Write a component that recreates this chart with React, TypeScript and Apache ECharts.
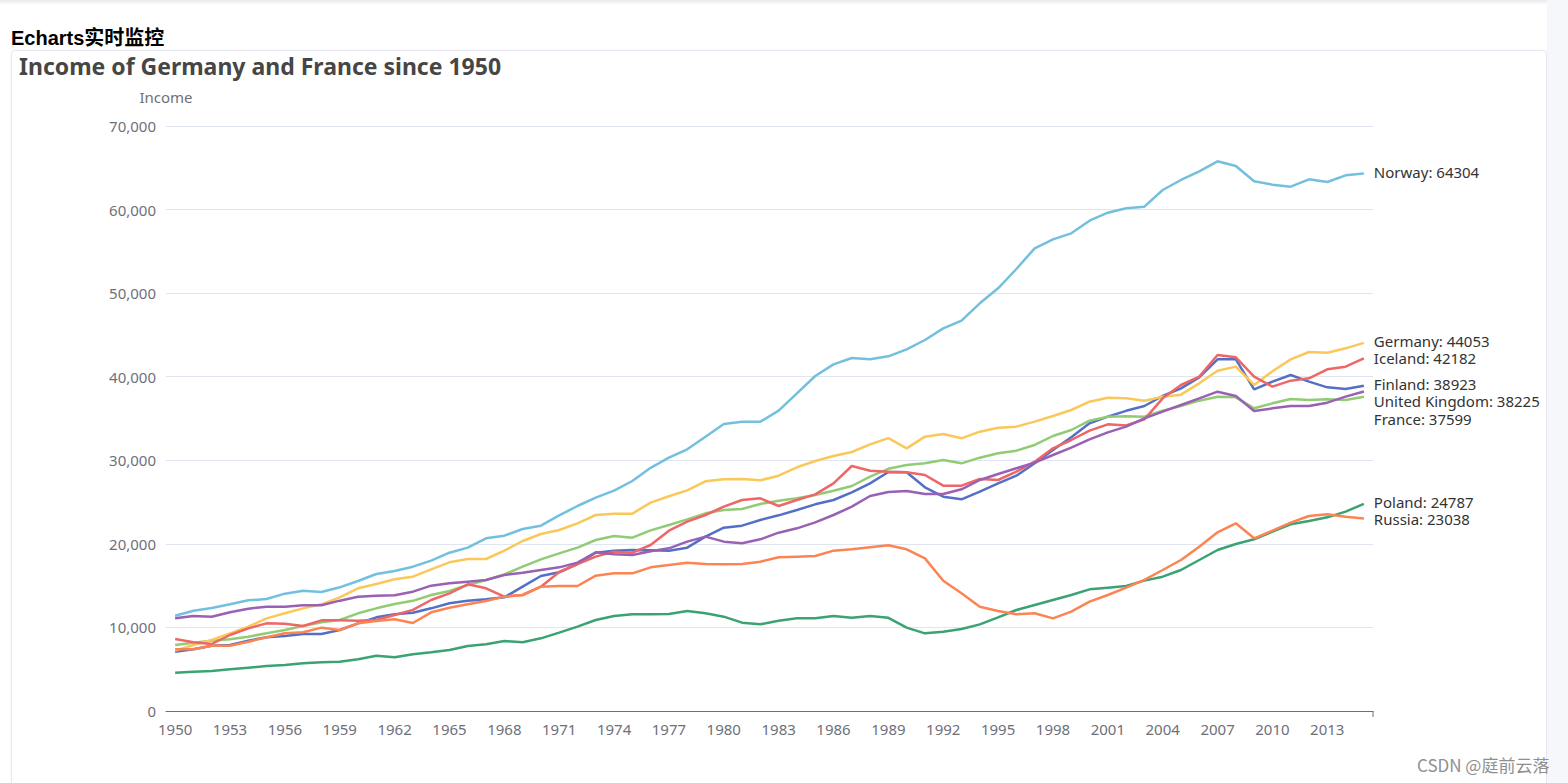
import React, { useEffect, useRef } from "react";
import * as echarts from "echarts";

const years: string[] = [];
for (let y = 1950; y <= 2015; y++) years.push(String(y));

const countries = ["Finland", "France", "Germany", "Iceland", "Norway", "Poland", "Russia", "United Kingdom"];
const palette = ["#5470c6", "#91cc75", "#fac858", "#ee6666", "#73c0de", "#3ba272", "#fc8452", "#9a60b4"];

const finland = [
  7097, 7380, 7814, 7898, 8416, 8815, 8975, 9214, 9214, 9693,
  10490, 11208, 11567, 11750, 12285, 12884, 13203, 13363, 13602, 14880,
  16154, 16593, 17590, 18946, 19186, 19265, 19226, 19186, 19545, 20861,
  21938, 22178, 22855, 23413, 24052, 24730, 25248, 26167, 27243, 28598,
  28558, 26764, 25647, 25328, 26245, 27242, 28159, 29635, 31231, 32747,
  34421, 35219, 35918, 36496, 37693, 38610, 39927, 42080, 42080, 38491,
  39409, 40206, 39409, 38730, 38530, 38923,
];
const france = [
  7898, 8177, 8416, 8576, 8895, 9293, 9693, 10171, 10610, 10889,
  11687, 12285, 12804, 13183, 13881, 14359, 15077, 15675, 16354, 17271,
  18148, 18866, 19544, 20462, 20940, 20741, 21618, 22257, 22935, 23653,
  24052, 24172, 24770, 25169, 25448, 25847, 26364, 26924, 28039, 28980,
  29436, 29635, 30034, 29635, 30313, 30831, 31151, 31830, 32906, 33625,
  34741, 35219, 35260, 35219, 35938, 36496, 37135, 37614, 37534, 36217,
  36815, 37334, 37214, 37294, 37214, 37599,
];
const germany = [
  7220, 7898, 8496, 9293, 10091, 11088, 11687, 12285, 12764, 13601,
  14678, 15197, 15755, 16075, 16953, 17790, 18188, 18188, 19186, 20343,
  21180, 21659, 22456, 23453, 23613, 23613, 24929, 25700, 26400, 27486,
  27726, 27760, 27605, 28158, 29160, 29915, 30513, 30992, 31910, 32647,
  31430, 32827, 33146, 32627, 33425, 33904, 34024, 34622, 35300, 36018,
  37015, 37494, 37434, 37135, 37614, 37853, 39209, 40725, 41204, 39010,
  40645, 42080, 42958, 42878, 43397, 44053,
];
const iceland = [
  8616, 8217, 8017, 9094, 9892, 10490, 10451, 10171, 10850, 10850,
  10810, 10889, 11487, 12100, 13283, 14081, 15158, 14680, 13683, 13881,
  14879, 16633, 17590, 18467, 19066, 18946, 19866, 21578, 22655, 23453,
  24450, 25248, 25447, 24530, 25248, 25926, 27242, 29316, 28758, 28638,
  28558, 28239, 26963, 26963, 27760, 27641, 28638, 29835, 31430, 32428,
  33545, 34302, 34163, 34901, 37414, 39010, 40007, 42600, 42320, 40007,
  38810, 39528, 39808, 40884, 41204, 42182,
];
const norway = [
  11404, 12002, 12325, 12765, 13244, 13402, 14040, 14399, 14240, 14798,
  15556, 16394, 16752, 17270, 17988, 18945, 19544, 20661, 20980, 21778,
  22177, 23412, 24530, 25527, 26364, 27522, 29100, 30313, 31312, 32827,
  34342, 34620, 34620, 35935, 38011, 40086, 41481, 42240, 42080, 42440,
  43280, 44393, 45787, 46703, 48786, 50579, 52890, 55362, 56439, 57157,
  58671, 59628, 60148, 60347, 62343, 63540, 64577, 65774, 65215, 63381,
  62982, 62742, 63620, 63300, 64100, 64304,
];
const poland = [
  4587, 4707, 4786, 4986, 5186, 5385, 5504, 5704, 5823, 5903,
  6182, 6620, 6421, 6800, 7020, 7299, 7778, 7977, 8376, 8217,
  8695, 9373, 10091, 10889, 11368, 11567, 11587, 11607, 11966, 11687,
  11288, 10570, 10370, 10810, 11088, 11088, 11368, 11168, 11368, 11148,
  9972, 9293, 9493, 9812, 10370, 11208, 12086, 12684, 13283, 13881,
  14560, 14760, 14958, 15600, 16075, 16872, 18068, 19265, 19983, 20541,
  21458, 22336, 22735, 23173, 23852, 24787,
];
const russia = [
  7380, 7380, 7814, 7814, 8296, 8815, 9293, 9413, 9972, 9693,
  10490, 10769, 10969, 10530, 11807, 12364, 12764, 13163, 13682, 13881,
  14879, 14958, 14958, 16194, 16473, 16473, 17190, 17470, 17750, 17590,
  17550, 17590, 17869, 18387, 18467, 18547, 19186, 19345, 19585, 19824,
  19345, 18267, 15595, 14081, 12484, 11966, 11567, 11687, 11088, 11886,
  13083, 13881, 14760, 15700, 16872, 18068, 19663, 21380, 22455, 20661,
  21578, 22535, 23334, 23533, 23254, 23038,
];
const unitedKingdom = [
  11088, 11368, 11288, 11807, 12245, 12484, 12484, 12644, 12644, 13203,
  13682, 13802, 13842, 14280, 14999, 15280, 15477, 15675, 16274, 16552,
  16872, 17190, 17750, 18986, 18747, 18667, 19126, 19465, 20262, 20861,
  20262, 20063, 20541, 21339, 21858, 22575, 23453, 24450, 25727, 26205,
  26325, 25966, 25966, 26524, 27641, 28359, 29040, 29715, 30633, 31510,
  32508, 33345, 34024, 35020, 35818, 36616, 37414, 38211, 37693, 35898,
  36217, 36496, 36496, 36894, 37614, 38225,
];

const seriesValues = [finland, france, germany, iceland, norway, poland, russia, unitedKingdom];

const FONT = '"Noto Sans", "Noto Sans CJK SC", sans-serif';
const CHART_W = 1534;
const CHART_H = 732;
const GRID = { left: 154, right: 173, top: 75, bottom: 72 };

function Chart() {
  const ref = useRef<HTMLDivElement>(null);
  useEffect(() => {
    if (!ref.current) return;
    const chart = echarts.init(ref.current, undefined, { renderer: "svg" });
    const axisEndX = CHART_W - GRID.right;
    const axisY = CHART_H - GRID.bottom;
    chart.setOption({
      animation: false,
      color: palette,
      textStyle: { fontFamily: FONT },
      title: {
        text: "Income of Germany and France since 1950",
        left: 7,
        top: 3,
        padding: 0,
        textStyle: { fontSize: 23, fontWeight: "bold", color: "#464646", fontFamily: FONT },
      },
      grid: GRID,
      xAxis: {
        type: "category",
        data: years,
        axisLabel: { interval: 2, fontSize: 15, color: "#6E7079", margin: 10 },
        axisTick: { interval: 2, length: 6, lineStyle: { color: "#6E7079" } },
        axisLine: { lineStyle: { color: "#6E7079" } },
      },
      yAxis: {
        type: "value",
        name: "Income",
        min: 0,
        max: 70000,
        interval: 10000,
        nameGap: 22,
        nameTextStyle: { fontSize: 15, color: "#6E7079" },
        axisLabel: { fontSize: 15, color: "#6E7079", margin: 10 },
        splitLine: { lineStyle: { color: "#E0E6F1" } },
      },
      graphic: [
        {
          type: "line",
          shape: { x1: axisEndX, y1: axisY, x2: axisEndX, y2: axisY + 6 },
          style: { stroke: "#6E7079", lineWidth: 1 },
          silent: true,
        },
      ],
      series: countries.map((name, i) => ({
        type: "line",
        name,
        data: seriesValues[i],
        showSymbol: false,
        lineStyle: { width: 2.5 },
        endLabel: {
          show: true,
          fontSize: 15,
          lineHeight: 17.5,
          color: "#333",
          distance: 10,
          offset: [0, -2],
          formatter: (p: any) => `${p.seriesName}: ${p.value}`,
        },
        labelLayout: { moveOverlap: "shiftY" },
        emphasis: { focus: "series" },
      })),
    });
    return () => chart.dispose();
  }, []);
  return <div ref={ref} style={{ position: "absolute", left: 12, top: 51, width: CHART_W, height: CHART_H }} />;
}

export default function App() {
  return (
    <div style={{ position: "fixed", left: 0, top: 0, width: 1568, height: 783, background: "#fff", overflow: "hidden" }}>
      <div style={{ position: "absolute", left: 0, top: 0, width: 1568, height: 5, background: "linear-gradient(#e9e9ee, #ffffff)" }} />
      <div
        style={{
          position: "absolute",
          left: 11,
          top: 27,
          fontFamily: 'Arial, "Liberation Sans", "Noto Sans CJK SC", sans-serif',
          fontWeight: "bold",
          fontSize: 20,
          lineHeight: "23px",
          color: "#000",
          whiteSpace: "nowrap",
        }}
      >
        Echarts实时监控
      </div>
      <div
        style={{
          position: "absolute",
          left: 11,
          top: 50,
          width: 1534,
          height: 760,
          border: "1px solid #e6e7f0",
          borderRadius: 4,
          boxShadow: "0 0 3px rgba(0,0,0,0.04)",
        }}
      />
      <div style={{ position: "absolute", left: 1547, top: 0, width: 21, height: 783, background: "#f6f7fb" }} />
      <Chart />
      <div
        style={{
          position: "absolute",
          left: 1417,
          top: 754,
          fontFamily: '"Noto Sans CJK SC", sans-serif',
          fontSize: 17,
          lineHeight: "22px",
          color: "#8f8f8f",
          whiteSpace: "nowrap",
        }}
      >
        CSDN @庭前云落
      </div>
    </div>
  );
}
